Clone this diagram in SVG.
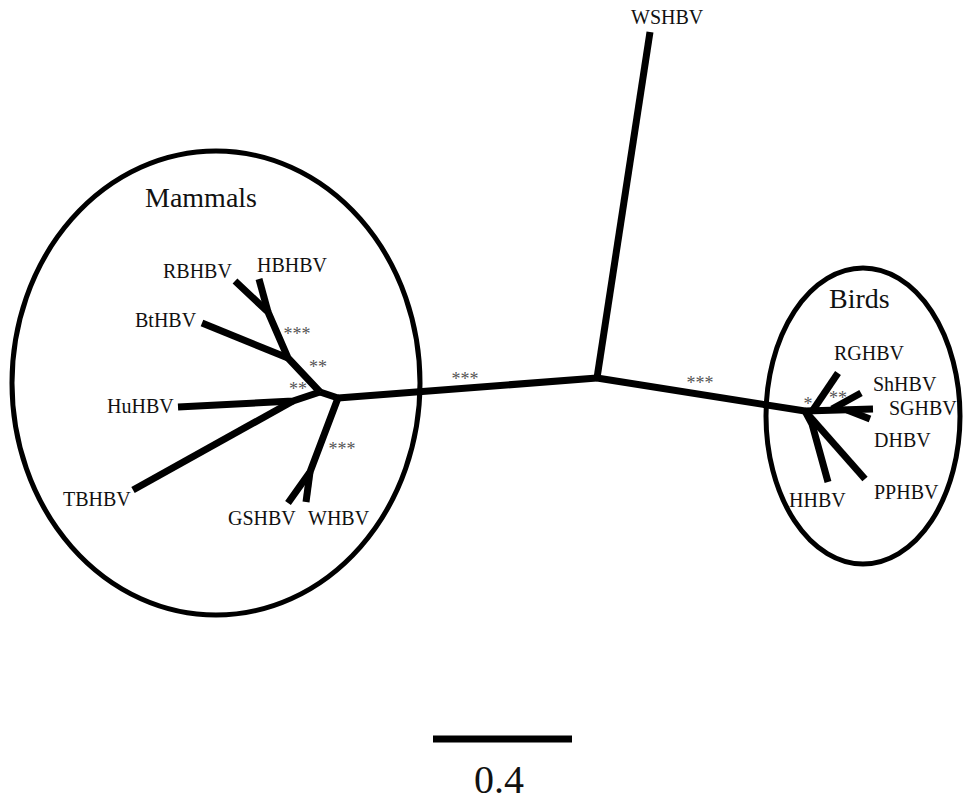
<svg xmlns="http://www.w3.org/2000/svg" width="963" height="804" viewBox="0 0 963 804">
<style>
.b{fill:none;stroke:#000;stroke-width:7;stroke-linecap:butt;stroke-linejoin:round}
.e{fill:none;stroke:#000;stroke-width:5}
.t{font-family:"Liberation Serif","Times New Roman",serif;font-size:20px;fill:#111}
.g{font-family:"Liberation Serif","Times New Roman",serif;font-size:28px;fill:#111}
.s{font-family:"Liberation Serif","Times New Roman",serif;font-size:18px;fill:#555;text-anchor:middle}
</style>
<rect width="963" height="804" fill="#fff"/>
<g id="mammals-group">
<ellipse class="e" cx="216" cy="383" rx="204" ry="232"/>
<text class="g" x="145" y="207">Mammals</text>
</g>
<g id="birds-group">
<ellipse class="e" cx="863" cy="416" rx="97" ry="148"/>
<text class="g" x="829" y="308">Birds</text>
</g>
<g id="connectors">
<path class="b" d="M650,32 L597,378"/>
<path class="b" d="M597,378 L338,398"/>
<path class="b" d="M597,378 L805,411"/>
<path class="b" d="M338,398 L310,472 L288,503"/>
<path class="b" d="M310,472 L306,502"/>
<path class="b" d="M338,398 L320,392"/>
<path class="b" d="M320,392 L293,401 L178,407"/>
<path class="b" d="M293,401 L133,490"/>
<path class="b" d="M320,392 L288,358 L268,312 L235,281"/>
<path class="b" d="M268,312 L259,279"/>
<path class="b" d="M288,358 L202,323"/>
<path class="b" d="M805,411 L873,409"/>
<path class="b" d="M813,410 L838,373"/>
<path class="b" d="M832,409 L861,393"/>
<path class="b" d="M847,410 L870,419"/>
<path class="b" d="M805,411 L812,424 L828,482"/>
<path class="b" d="M805,411 L865,479"/>
</g>
<g id="support">
<text class="s" x="297" y="340">***</text>
<text class="s" x="318" y="373">**</text>
<text class="s" x="298" y="395">**</text>
<text class="s" x="342" y="455">***</text>
<text class="s" x="465" y="385">***</text>
<text class="s" x="700" y="389">***</text>
<text class="s" x="808" y="410">*</text>
<text class="s" x="838" y="404">**</text>
</g>
<g id="WSHBV"><text class="t" x="631" y="24">WSHBV</text></g>
<g id="RBHBV"><text class="t" x="163" y="278">RBHBV</text></g>
<g id="HBHBV"><text class="t" x="257" y="272">HBHBV</text></g>
<g id="BtHBV"><text class="t" x="135" y="327">BtHBV</text></g>
<g id="HuHBV"><text class="t" x="107" y="413">HuHBV</text></g>
<g id="TBHBV"><text class="t" x="63" y="506">TBHBV</text></g>
<g id="GSHBV"><text class="t" x="228" y="525">GSHBV</text></g>
<g id="WHBV"><text class="t" x="308" y="525">WHBV</text></g>
<g id="RGHBV"><text class="t" x="834" y="360">RGHBV</text></g>
<g id="ShHBV"><text class="t" x="873" y="391">ShHBV</text></g>
<g id="SGHBV"><text class="t" x="889" y="415">SGHBV</text></g>
<g id="DHBV"><text class="t" x="874" y="447">DHBV</text></g>
<g id="HHBV"><text class="t" x="789" y="507">HHBV</text></g>
<g id="PPHBV"><text class="t" x="874" y="499">PPHBV</text></g>
<g id="scale">
<line x1="433" y1="739" x2="572" y2="739" stroke="#000" stroke-width="7"/>
<text x="499" y="793" text-anchor="middle" font-family="Liberation Serif, Times New Roman, serif" font-size="40" fill="#111">0.4</text>
</g>
</svg>
